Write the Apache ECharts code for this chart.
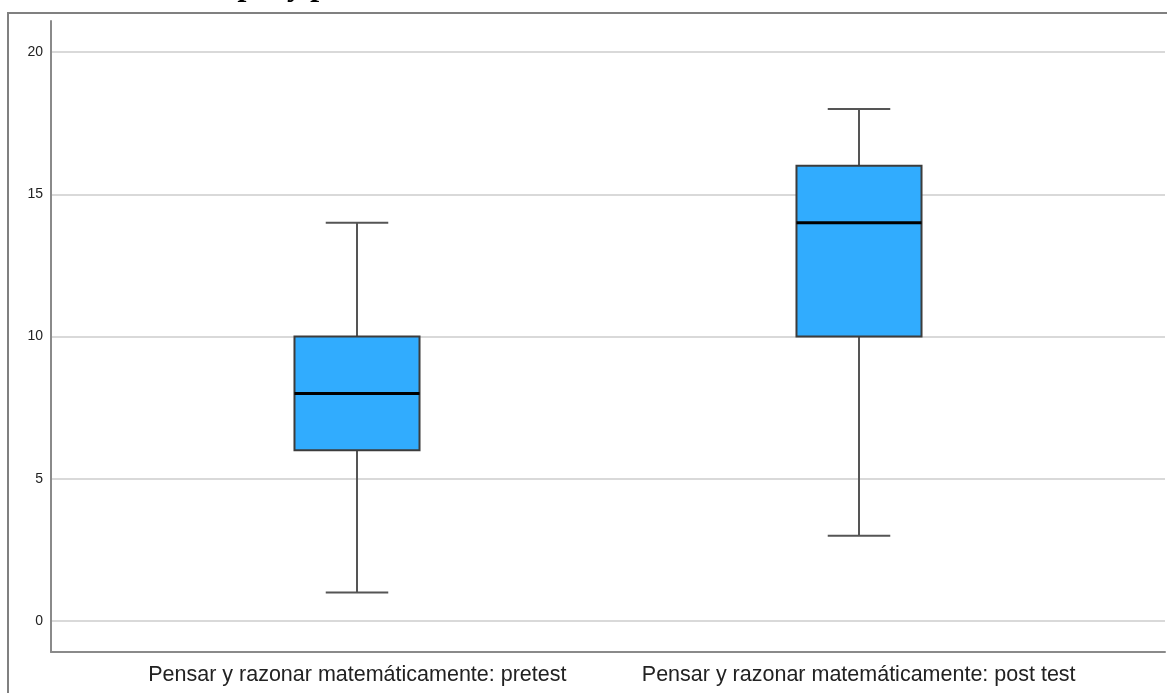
<!DOCTYPE html>
<html>
<head>
<meta charset="utf-8">
<script src="https://cdn.jsdelivr.net/npm/echarts@6/dist/echarts.min.js"></script>
<style>
html,body{margin:0;padding:0;background:#fff;}
#chart{width:1167px;height:693px;}
</style>
</head>
<body>
<div id="chart"></div>
<script>
const categories = ['Pensar y razonar matemáticamente: pretest', 'Pensar y razonar matemáticamente: post test'];
const positions = [1, 2];
const minValues = [1, 3];
const q1Values = [6, 10];
const medianValues = [8, 14];
const q3Values = [10, 16];
const maxValues = [14, 18];
const yTicks = [0, 5, 10, 15, 20];
const titleFragment = 'pre y post test';

const boxData = positions.map((p, i) => [p, minValues[i], q1Values[i], medianValues[i], q3Values[i], maxValues[i]]);

const chart = echarts.init(document.getElementById('chart'), null, {renderer: 'canvas'});

const xMin = 0.389, xMax = 2.611;

const option = {
  animation: false,
  backgroundColor: '#ffffff',
  grid: [
    {left: 51, right: 2, top: 52, bottom: 72},
    {left: 51, right: 2, top: 21, bottom: 41}
  ],
  xAxis: [
    {gridIndex: 0, type: 'value', min: xMin, max: xMax, show: false},
    {
      gridIndex: 1, type: 'value', min: xMin, max: xMax,
      axisLine: {show: true, onZero: false, lineStyle: {color: '#8a8a8a', width: 2}},
      axisTick: {show: false},
      splitLine: {show: false},
      axisLabel: {
        customValues: positions,
        formatter: v => categories[Math.round(v) - 1] || '',
        fontFamily: '"Liberation Sans", Arial, sans-serif',
        fontSize: 21.5,
        color: '#222',
        margin: 12
      }
    }
  ],
  yAxis: [
    {
      gridIndex: 0, type: 'value', min: yTicks[0], max: yTicks[yTicks.length - 1], interval: 5,
      axisLine: {show: false},
      axisTick: {show: false},
      axisLabel: {fontFamily: '"Liberation Sans", Arial, sans-serif', fontSize: 14, color: '#222', margin: 8},
      splitLine: {show: true, lineStyle: {color: '#d9d9d9', width: 2}}
    },
    {
      gridIndex: 1, type: 'value', min: 0, max: 1,
      axisLine: {show: true, onZero: false, lineStyle: {color: '#8a8a8a', width: 2}},
      axisTick: {show: false},
      axisLabel: {show: false},
      splitLine: {show: false}
    }
  ],
  graphic: [
    {
      type: 'rect', silent: true, z: 0,
      shape: {x: 8, y: 13, width: 1300, height: 900},
      style: {fill: 'none', stroke: '#808080', lineWidth: 2}
    },
    {
      type: 'text', silent: true, x: 240, y: -13,
      style: {
        text: titleFragment,
        font: 'italic bold 32px "Liberation Serif", serif',
        fill: '#000',
        verticalAlign: 'middle',
        align: 'left'
      }
    }
  ],
  series: [{
    type: 'custom',
    xAxisIndex: 0,
    yAxisIndex: 0,
    data: boxData,
    encode: {x: 0, y: [1, 2, 3, 4, 5]},
    z: 3,
    renderItem: function (params, api) {
      const x = api.value(0);
      const unit = api.size([1, 0])[0];
      const half = unit * 0.1247;
      const capHalf = half / 2;
      const pMin = api.coord([x, api.value(1)]);
      const pQ1 = api.coord([x, api.value(2)]);
      const pMed = api.coord([x, api.value(3)]);
      const pQ3 = api.coord([x, api.value(4)]);
      const pMax = api.coord([x, api.value(5)]);
      const cx = Math.round(pMin[0]);
      const whisker = {stroke: '#555555', lineWidth: 2};
      return {
        type: 'group',
        children: [
          {type: 'line', shape: {x1: cx, y1: pQ3[1], x2: cx, y2: pMax[1]}, style: whisker},
          {type: 'line', shape: {x1: cx, y1: pQ1[1], x2: cx, y2: pMin[1]}, style: whisker},
          {type: 'line', shape: {x1: cx - capHalf, y1: pMax[1], x2: cx + capHalf, y2: pMax[1]}, style: whisker},
          {type: 'line', shape: {x1: cx - capHalf, y1: pMin[1], x2: cx + capHalf, y2: pMin[1]}, style: whisker},
          {type: 'rect', shape: {x: cx - half, y: pQ3[1], width: half * 2, height: pQ1[1] - pQ3[1]},
            style: {fill: '#31acfe', stroke: '#3c3c3c', lineWidth: 2}},
          {type: 'line', shape: {x1: cx - half, y1: pMed[1], x2: cx + half, y2: pMed[1]},
            style: {stroke: '#000000', lineWidth: 3}}
        ]
      };
    }
  }]
};
chart.setOption(option);
</script>
</body>
</html>
